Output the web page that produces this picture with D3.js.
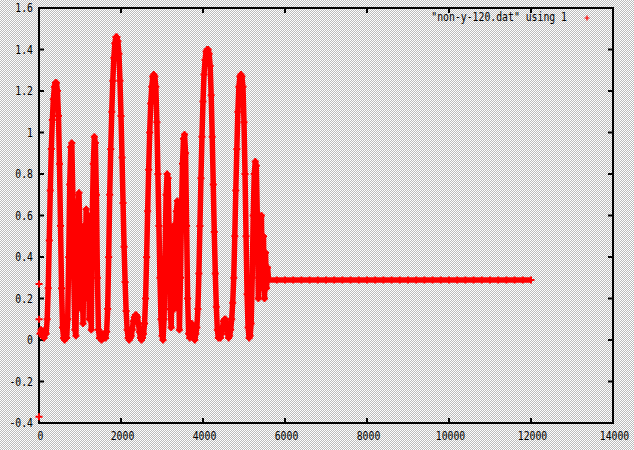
<!DOCTYPE html>
<html><head><meta charset="utf-8">
<script src="https://cdn.jsdelivr.net/npm/d3@7"></script>
<style>html,body{margin:0;padding:0;background:#dedede;} svg{display:block}</style>
</head><body><div id="chart"></div>
<script>
// ---- data ----
const xTicks = [0, 2000, 4000, 6000, 8000, 10000, 12000, 14000];
const yTicks = [-0.4, -0.2, 0, 0.2, 0.4, 0.6, 0.8, 1, 1.2, 1.4, 1.6];
const seriesLabel = '"non-y-120.dat" using 1';
// first few samples (outliers at the very start)
const startIndex = [0, 1, 2];
const startValues = [-0.37, 0.27, 0.10];
// main oscillating part, one value every 25 samples starting at sample 25
const sampleStep = 25;
const mainValues = [
  0.03,0.05,0.02,0.04,0.01,0.05,0.03,0.10,0.25,0.48,0.72,0.92,1.06,1.16,1.22,1.24,1.24,1.20,1.08,0.85,0.55,0.25,0.06,0.01,
  0.00,0.03,0.01,0.10,0.40,0.75,0.93,0.95,0.70,0.30,0.05,0.02,0.35,0.65,0.71,0.50,0.15,0.45,0.08,0.55,0.20,0.63,0.30,0.60,0.10,0.45,0.05,0.60,0.85,0.98,0.95,0.70,0.30,0.05,0.01,0.02,
  0.00,0.03,0.01,0.02,0.01,0.04,0.15,0.40,0.70,0.92,1.10,1.25,1.36,1.43,1.46,1.46,1.44,1.38,1.25,1.08,0.88,0.66,0.45,0.28,0.14,0.05,0.01,0.00,0.01,
  0.02,0.05,0.09,0.11,0.12,0.12,0.11,0.08,0.04,0.01,0.00,0.01,0.03,0.08,0.20,0.40,0.62,0.82,1.00,1.14,1.22,1.27,1.28,1.27,1.22,1.05,0.80,0.55,0.30,0.10,0.02,0.00,
  0.10,0.40,0.70,0.80,0.78,0.50,0.15,0.06,0.35,0.55,0.15,0.50,0.62,0.67,0.40,0.05,0.30,0.60,0.85,0.97,0.99,0.90,0.55,0.20,0.03,0.01,0.05,0.08,0.04,0.01,0.00,0.03,
  0.06,0.15,0.32,0.55,0.78,0.98,1.15,1.28,1.35,1.39,1.40,1.40,1.38,1.32,1.18,0.98,0.75,0.52,0.32,0.16,0.05,0.01,
  0.02,0.01,0.03,0.06,0.09,0.10,0.10,0.08,0.03,0.01,0.02,0.05,0.10,0.18,0.30,0.50,0.72,0.92,1.10,1.22,1.27,1.28,1.27,1.22,1.05,0.80,0.50,0.22,0.06,0.01,
  0.02,0.08,0.30,0.60,0.80,0.86,0.84,0.60,0.20,0.45,0.58,0.60,0.25,0.50,0.20,0.42,0.25,0.35,0.29
];
// flat tail, one value every 200 samples up to sample 12000
const tailStep = 200;
const tailValues = [
  0.289,0.289,0.289,0.289,0.289,0.289,0.289,0.289,0.289,0.289,0.289,0.289,0.289,0.289,0.289,0.289,
  0.289,0.289,0.289,0.289,0.289,0.289,0.289,0.289,0.289,0.289,0.289,0.289,0.289,0.289,0.289,0.289
];

(function () {
// ---- build points ----
const mainPts = mainValues.map((v, i) => ({x: (i + 1) * sampleStep, y: v}));
const lastMain = mainPts[mainPts.length - 1].x;
const tailPts = tailValues.map((v, i) => ({x: lastMain + (i + 1) * tailStep, y: v}));
const seriesPts = mainPts.concat(tailPts);
const startPts = startValues.map((v, i) => ({x: startIndex[i], y: v}));

// ---- layout ----
const W = 634, H = 450;
const pL = 39, pR = 613, pT = 8, pB = 423;
const x = d3.scaleLinear().domain([0, 14000]).range([pL, pR]);
const y = d3.scaleLinear().domain([-0.4, 1.6]).range([pB, pT]);

const svg = d3.select('#chart').append('svg').attr('width', W).attr('height', H);
const defs = svg.append('defs');
const pat = defs.append('pattern').attr('id', 'dither').attr('width', 2).attr('height', 2)
  .attr('patternUnits', 'userSpaceOnUse');
pat.append('rect').attr('width', 2).attr('height', 2).attr('fill', '#ffffff');
pat.append('rect').attr('x', 1).attr('y', 0).attr('width', 1).attr('height', 1).attr('fill', '#bcbcbc');
pat.append('rect').attr('x', 0).attr('y', 1).attr('width', 1).attr('height', 1).attr('fill', '#bcbcbc');
svg.append('rect').attr('width', W).attr('height', H).attr('fill', 'url(#dither)');

const font = "'DejaVu Sans Mono', 'Liberation Mono', monospace";
const charW = 5.9;

// axes
const axisG = svg.append('g');
axisG.append('rect').attr('x', pL).attr('y', pT).attr('width', pR - pL).attr('height', pB - pT)
  .attr('fill', 'none').attr('stroke', '#000').attr('stroke-width', 2);

const tickLen = 5;
xTicks.forEach(t => {
  const px = x(t);
  axisG.append('line').attr('x1', px).attr('x2', px).attr('y1', pB).attr('y2', pB - tickLen)
    .attr('stroke', '#000').attr('stroke-width', 2);
  axisG.append('line').attr('x1', px).attr('x2', px).attr('y1', pT).attr('y2', pT + tickLen)
    .attr('stroke', '#000').attr('stroke-width', 2);
  const s = String(t);
  axisG.append('text').attr('x', px + 1.5).attr('y', 440).attr('text-anchor', 'middle')
    .attr('font-family', font).attr('font-size', 12)
    .attr('textLength', s.length * charW).attr('lengthAdjust', 'spacingAndGlyphs').text(s);
});
yTicks.forEach(t => {
  const py = y(t);
  axisG.append('line').attr('x1', pL).attr('x2', pL + tickLen).attr('y1', py).attr('y2', py)
    .attr('stroke', '#000').attr('stroke-width', 2);
  axisG.append('line').attr('x1', pR).attr('x2', pR - tickLen).attr('y1', py).attr('y2', py)
    .attr('stroke', '#000').attr('stroke-width', 2);
  const s = d3.format('~g')(t).replace('\u2212', '-');
  axisG.append('text').attr('x', 33).attr('y', py + 4).attr('text-anchor', 'end')
    .attr('font-family', font).attr('font-size', 12)
    .attr('textLength', s.length * charW).attr('lengthAdjust', 'spacingAndGlyphs').text(s);
});

// series
const red = '#ff0000';
const plotG = svg.append('g');
const line = d3.line().x(d => x(d.x)).y(d => y(d.y));
plotG.append('path').datum(seriesPts).attr('d', line)
  .attr('fill', 'none').attr('stroke', red).attr('stroke-width', 5.5).attr('stroke-linejoin', 'round');
const plus = 'M-3.5,0H3.5M0,-3.5V3.5';
plotG.selectAll('path.pt').data(seriesPts.concat(startPts)).join('path').attr('class', 'pt')
  .attr('transform', d => `translate(${x(d.x)},${y(d.y)})`).attr('d', plus)
  .attr('stroke', red).attr('stroke-width', 2).attr('fill', 'none');

// legend
svg.append('text').attr('x', 567).attr('y', 21).attr('text-anchor', 'end')
  .attr('font-family', font).attr('font-size', 12)
  .attr('textLength', seriesLabel.length * charW).attr('lengthAdjust', 'spacingAndGlyphs').text(seriesLabel);
svg.append('path').attr('transform', 'translate(587,18)').attr('d', 'M-2.5,0H2.5M0,-2.5V2.5')
  .attr('stroke', red).attr('stroke-width', 1.2).attr('fill', 'none');
})();
</script>
</body></html>
